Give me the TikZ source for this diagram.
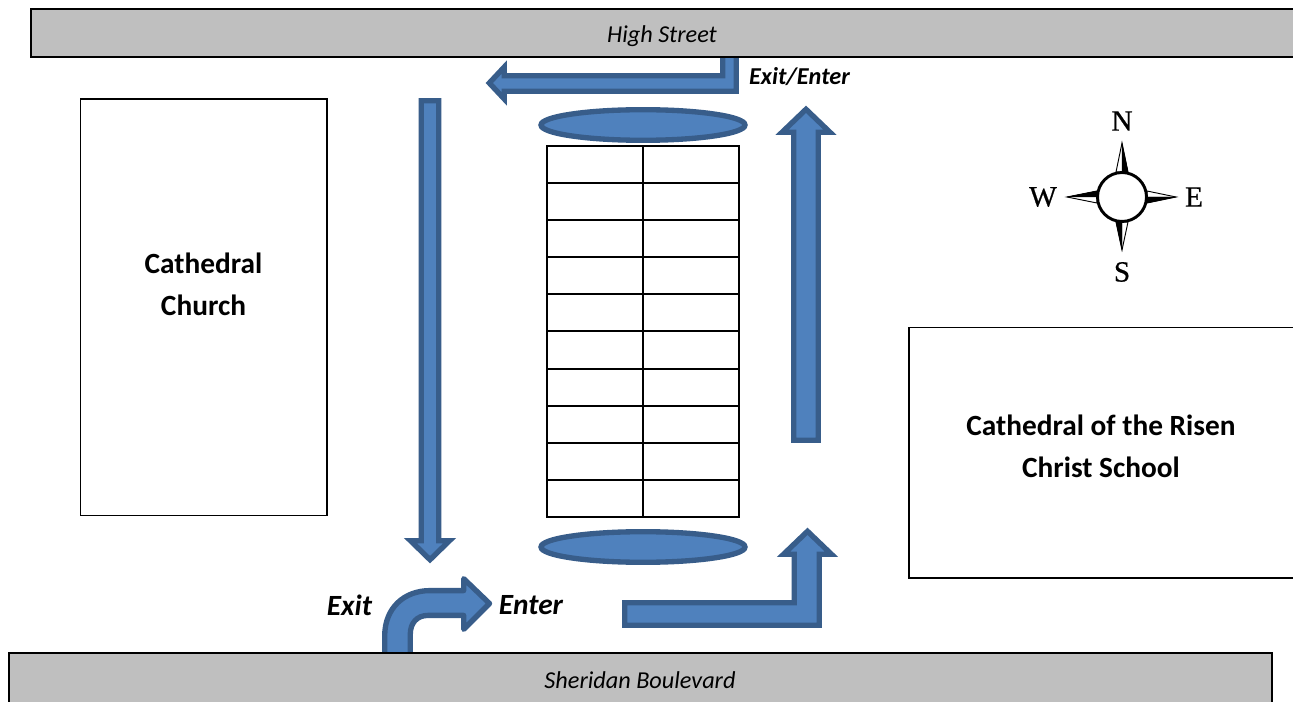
\documentclass[tikz,border=0pt]{standalone}
\usepackage{fontspec}
\setmainfont{Carlito}
\newfontfamily\compassfont[FakeBold=0.6]{Liberation Serif}
\definecolor{roadgrey}{HTML}{BFBFBF}
\definecolor{arrowfill}{HTML}{4F81BD}
\definecolor{arrowline}{HTML}{385D8A}
\tikzset{
  road/.style={draw=black,line width=1.5pt,fill=roadgrey},
  building/.style={draw=black,line width=1.1pt,fill=white},
  flow/.style={draw=arrowline,fill=arrowfill,line width=4pt,miter limit=10},
  cell/.style={draw=black,line width=1.1pt,fill=white},
  roadlabel/.style={font=\fontsize{18.2}{22}\selectfont\itshape},
  buildlabel/.style={font=\fontsize{22}{31.5}\selectfont\bfseries,align=center},
  entry/.style={font=\fontsize{22}{26}\selectfont\bfseries\itshape},
  compassletter/.style={font=\fontsize{22}{24}\selectfont\compassfont},
  compasspoint/.style={draw=black,line width=.7pt,fill=white,line join=miter},
  compassdark/.style={fill=black,draw=black,line width=.3pt}
}
\begin{document}
\begin{tikzpicture}[x=.75pt,y=-.75pt]
\useasboundingbox (0,0) rectangle (1293,702);
\fill[white] (0,0) rectangle (1293,702);
% arrows
\draw[flow] (736.3,50) -- (736.3,91.3) -- (504.3,91.3) -- (504.3,99) -- (489.3,83) -- (504.3,67) -- (504.3,75.7) -- (722.7,75.7) -- (722.7,50) -- cycle;
\draw[flow] (421.2,100.7) -- (438.8,100.7) -- (438.8,540.7) -- (449.5,540.7) -- (430,559.7) -- (410.5,540.7) -- (421.2,540.7) -- cycle;
\draw[flow] (793.7,440.3) -- (793.7,132.3) -- (782,132.3) -- (806,109.3) -- (830,132.3) -- (818.3,132.3) -- (818.3,440.3) -- cycle;
\draw[flow] (624.7,602.7) -- (794.3,602.7) -- (794.3,554.3) -- (783.5,554.3) -- (807.5,531.3) -- (831.5,554.3) -- (819.3,554.3) -- (819.3,625.3) -- (624.7,625.3) -- cycle;
\draw[flow,line join=round] (384.7,660) -- (384.7,636) .. controls (384.7,608) and (404,590.6) .. (430,590.6) -- (463.7,590.6) -- (463.7,578.7) -- (489.5,603.5) -- (463.7,629.3) -- (463.7,615.4) -- (428,615.4) .. controls (417,615.4) and (410.3,623) .. (410.3,634) -- (410.3,660) -- cycle;
% ellipses
\draw[flow] (643,125) ellipse [x radius=102,y radius=15.3];
\draw[flow] (643,547) ellipse [x radius=102,y radius=15.3];
% roads
\draw[road] (31,9) rectangle (1299,57);
\draw[road] (9,653) rectangle (1272,710);
\node[roadlabel] (high) at (662,36) {High Street};
\node[roadlabel] (sheridan) at (640,680) {Sheridan Boulevard};
% buildings
\draw[building] (80.5,99) rectangle (327,515.5);
\node[buildlabel] (church) at (203.5,284.5) {Cathedral\\Church};
\draw[building] (909,327.5) rectangle (1299,578);
\node[buildlabel] (school) at (1101,446) {Cathedral of the Risen\\Christ School};
% table
\foreach \ya/\yb in {146/183,183/220,220/257,257/294,294/331,331/369,369/406,406/443,443/480,480/517}{
  \draw[cell] (547,\ya) rectangle (643,\yb);
  \draw[cell] (643,\ya) rectangle (739,\yb);
}
% labels
\node[font=\fontsize{18.2}{22}\selectfont\bfseries\itshape] (exitenter) at (799.5,77) {Exit/Enter};
\node[entry] (exit) at (349.5,605) {Exit};
\node[entry] (enter) at (531,605) {Enter};
% compass
\coordinate (cc) at (1122,197);
\draw[compasspoint] (1116,172) -- (1122,143) -- (1128,172) -- cycle;
\fill[compassdark] (1122,143) -- (1128,172) -- (1122,172) -- cycle;
\draw[compasspoint] (1147,191) -- (1176,197) -- (1147,203) -- cycle;
\fill[compassdark] (1176,197) -- (1147,203) -- (1147,197) -- cycle;
\draw[compasspoint] (1116,222) -- (1122,250) -- (1128,222) -- cycle;
\fill[compassdark] (1122,250) -- (1116,222) -- (1122,222) -- cycle;
\draw[compasspoint] (1097,191) -- (1067,197) -- (1097,203) -- cycle;
\fill[compassdark] (1067,197) -- (1097,191) -- (1097,197) -- cycle;
\draw[black,line width=2.2pt,fill=white] (cc) circle [radius=24.5];
\node[compassletter] (n) at (1122,121) {N};
\node[compassletter] (s) at (1122,272) {S};
\node[compassletter] (w) at (1043,197) {W};
\node[compassletter] (e) at (1194,197) {E};
\end{tikzpicture}
\end{document}
